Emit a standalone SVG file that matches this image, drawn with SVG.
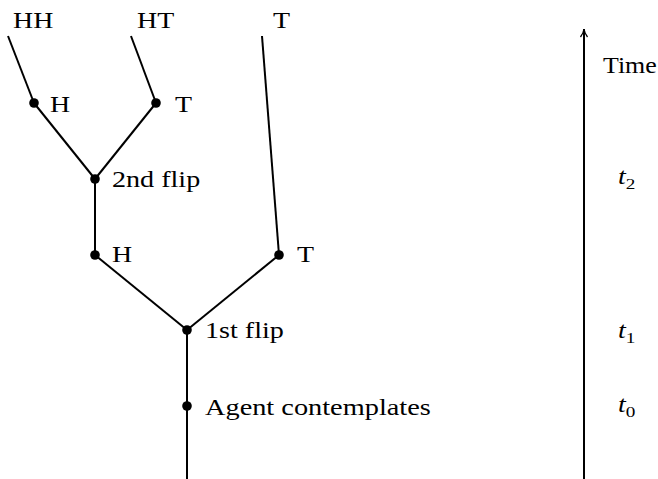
<svg xmlns="http://www.w3.org/2000/svg" width="658" height="479" viewBox="0 0 658 479">
<style>
.e{stroke:#000;stroke-width:2;fill:none;stroke-linecap:butt}
.d{fill:#000}
text{font-family:"Liberation Serif","DejaVu Serif",serif;font-size:22.5px;fill:#000}
.i{font-style:italic}
.s{font-size:15.5px}
</style>
<defs>
<marker id="ah" viewBox="0 0 10 10" refX="9" refY="5" markerWidth="10" markerHeight="10" markerUnits="userSpaceOnUse" orient="auto">
<path d="M1,1.5 Q5,4.5 9,5 Q5,5.5 1,8.5" fill="none" stroke="#000" stroke-width="1.3"/>
</marker>
</defs>
<g id="connectors">
<line class="e" x1="187" y1="479" x2="187" y2="330"/>
<line class="e" x1="187" y1="330" x2="95" y2="255"/>
<line class="e" x1="187" y1="330" x2="279" y2="255"/>
<line class="e" x1="279" y1="255" x2="262" y2="36"/>
<line class="e" x1="95" y1="255" x2="95" y2="179"/>
<line class="e" x1="95" y1="179" x2="34" y2="103"/>
<line class="e" x1="95" y1="179" x2="156" y2="103"/>
<line class="e" x1="34" y1="103" x2="8" y2="36"/>
<line class="e" x1="156" y1="103" x2="131" y2="36"/>
</g>
<g id="time-axis">
<line class="e" x1="584" y1="479" x2="584" y2="29" marker-end="url(#ah)"/>
<text transform="translate(603,73) scale(1.15,1)">Time</text>
<text transform="translate(618,184) scale(1.24,1)"><tspan class="i">t</tspan><tspan class="s" dy="5">2</tspan></text>
<text transform="translate(618,338) scale(1.24,1)"><tspan class="i">t</tspan><tspan class="s" dy="5">1</tspan></text>
<text transform="translate(618,412) scale(1.24,1)"><tspan class="i">t</tspan><tspan class="s" dy="5">0</tspan></text>
</g>
<g id="agent"><circle class="d" cx="187" cy="406" r="4.8"/><text transform="translate(205,415) scale(1.26,1)">Agent contemplates</text></g>
<g id="flip1"><circle class="d" cx="187" cy="330" r="4.8"/><text transform="translate(205,338) scale(1.25,1)">1st flip</text></g>
<g id="h1"><circle class="d" cx="95" cy="255" r="4.8"/><text transform="translate(112,262) scale(1.24,1)">H</text></g>
<g id="t1"><circle class="d" cx="279" cy="255" r="4.8"/><text transform="translate(297,262) scale(1.24,1)">T</text></g>
<g id="flip2"><circle class="d" cx="95" cy="179" r="4.8"/><text transform="translate(112,187) scale(1.25,1)">2nd flip</text></g>
<g id="h2"><circle class="d" cx="34" cy="103" r="4.8"/><text transform="translate(50,112) scale(1.24,1)">H</text></g>
<g id="t2"><circle class="d" cx="156" cy="103" r="4.8"/><text transform="translate(175,112) scale(1.24,1)">T</text></g>
<g id="hh"><text transform="translate(13,28) scale(1.24,1)">HH</text></g>
<g id="ht"><text transform="translate(137,28) scale(1.24,1)">HT</text></g>
<g id="t"><text transform="translate(273,28) scale(1.24,1)">T</text></g>
</svg>
